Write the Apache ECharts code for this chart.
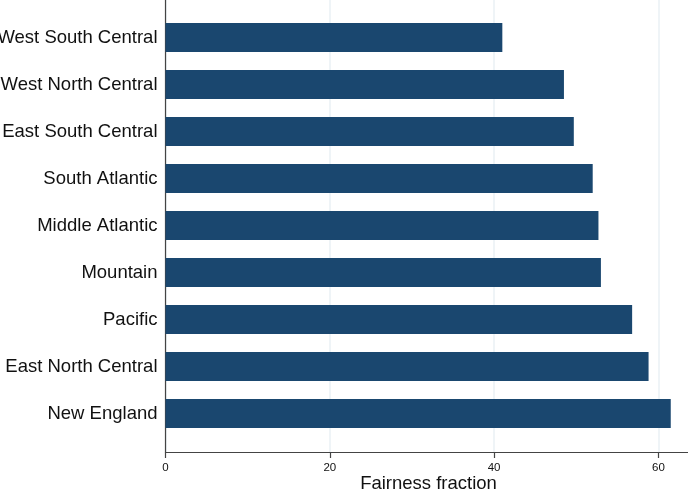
<!DOCTYPE html>
<html>
<head>
<meta charset="utf-8">
<script src="https://cdn.jsdelivr.net/npm/echarts@6/dist/echarts.min.js"></script>
<style>
  html, body { margin: 0; padding: 0; background: #fff; }
  #chart { width: 688px; height: 494px; }
</style>
</head>
<body>
<div id="chart"></div>
<script>
// Census divisions, listed top to bottom
const divisions = [
  'West South Central', 'West North Central', 'East South Central',
  'South Atlantic', 'Middle Atlantic', 'Mountain', 'Pacific',
  'East North Central', 'New England'
];
// Fairness fraction per division
const fairness = [41.0, 48.5, 49.7, 52.0, 52.7, 53.0, 56.8, 58.8, 61.5];
// Horizontal axis range and tick spacing
const xMin = 0;
const xMax = 63.6;
const xStep = 20;
const xTitle = 'Fairness fraction';

const font = 'Liberation Sans, Arial, Helvetica, sans-serif';
const chart = echarts.init(document.getElementById('chart'), null, { renderer: 'canvas' });

chart.setOption({
  animation: false,
  backgroundColor: '#ffffff',
  grid: [
    // frame: axis lines, ticks, gridlines
    { left: 165.5, right: 0, top: -2, bottom: 42, containLabel: false, outerBoundsMode: 'none' },
    // bars and category labels (long labels may run past the left edge)
    { left: 165.5, right: 0, top: 14, bottom: 57, containLabel: false, outerBoundsMode: 'none' }
  ],
  xAxis: [
    {
      gridIndex: 0, type: 'value', min: xMin, max: xMax, interval: xStep,
      axisLine: { show: true, lineStyle: { color: '#444', width: 1.2 } },
      axisTick: { show: true, length: 6, lineStyle: { color: '#444', width: 1.2 } },
      axisLabel: { show: true, showMaxLabel: false, fontFamily: font, fontSize: 11.5, color: '#111', margin: 10 },
      splitLine: { show: true, showMaxLine: false, lineStyle: { color: '#eaf0f4', width: 1.5 } }
    },
    {
      gridIndex: 1, type: 'value', min: xMin, max: xMax, interval: xStep, show: false,
      splitLine: { show: false }
    }
  ],
  yAxis: [
    {
      gridIndex: 0, type: 'value', min: 0, max: 1,
      axisLine: { show: true, onZero: false, lineStyle: { color: '#444', width: 1.2 } },
      axisTick: { show: false }, axisLabel: { show: false }, splitLine: { show: false }
    },
    {
      gridIndex: 1, type: 'category', data: divisions, inverse: true,
      axisLine: { show: false }, axisTick: { show: false }, splitLine: { show: false },
      axisLabel: { fontFamily: font, fontSize: 18.5, color: '#111', margin: 8, padding: [7, 0, 0, 0] }
    }
  ],
  graphic: [
    {
      type: 'text', x: 428.5, y: 484,
      style: {
        text: xTitle, fontFamily: font, fontSize: 18.5, fill: '#111',
        textAlign: 'center', textVerticalAlign: 'middle'
      }
    }
  ],
  series: [
    {
      type: 'bar', xAxisIndex: 1, yAxisIndex: 1, data: fairness,
      barCategoryGap: '38%',
      itemStyle: { color: '#1a476f' }
    }
  ]
});
</script>
</body>
</html>
